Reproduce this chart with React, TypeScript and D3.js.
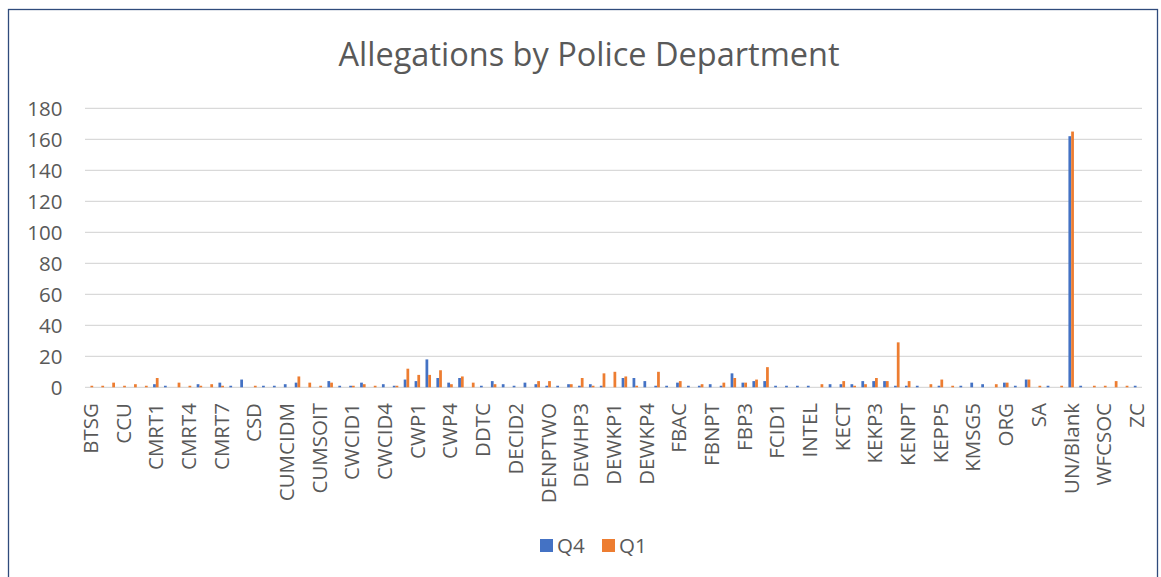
import React from "react";
import * as d3 from "d3";

const categories = [
  "BTSG","CAPD","CCPD","CCU","CDU","CMRT","CMRT1","CMRT2","CMRT3","CMRT4",
  "CMRT5","CMRT6","CMRT7","CMRT8","CPD","CSD","CTU","CUMCID","CUMCIDM","CUMCIDT",
  "CUMSO","CUMSOIT","CUMSOW","CWCID","CWCID1","CWCID2","CWCID3","CWCID4","CWCID5","CWP",
  "CWP1","CWP2","CWP3","CWP4","CWP5","DCPD","DDTC","DECID","DECID1","DECID2",
  "DECID3","DENPT","DENPTWO","DEWHP1","DEWHP2","DEWHP3","DEWHP4","DEWKP","DEWKP1","DEWKP2",
  "DEWKP3","DEWKP4","DEWKP5","DTU","FBAC","FBCID","FBNP","FBNPT","FBP1","FBP2",
  "FBP3","FBP4","FCID","FCID1","FCID2","FTU","INTEL","KEAC","KECID","KECT",
  "KEKP1","KEKP2","KEKP3","KEKP4","KENP","KENPT","KEPP3","KEPP4","KEPP5","KMSG3",
  "KMSG4","KMSG5","MCU","OPS","ORG","PIO","PSD","SA","SWAT","TRN",
  "UN/Blank","VCU","WFCID","WFCSOC","WFP","YCU","ZC"
];

// every third category carries a visible tick label
const tickLabels = [
  "BTSG","CCU","CMRT1","CMRT4","CMRT7","CSD","CUMCIDM","CUMSOIT","CWCID1","CWCID4",
  "CWP1","CWP4","DDTC","DECID2","DENPTWO","DEWHP3","DEWKP1","DEWKP4","FBAC","FBNPT",
  "FBP3","FCID1","INTEL","KECT","KEKP3","KENPT","KEPP5","KMSG5","ORG","SA",
  "UN/Blank","WFCSOC","ZC"
];

const q4 = [
  0,0,0,0,0,0,2,1,0,0,
  2,0,3,1,5,0,1,1,2,3,
  0,0,4,1,1,3,0,2,1,5,
  4,18,6,3,6,0,1,4,2,1,
  3,2,1,1,2,1,2,1,0,6,
  6,4,1,1,3,1,1,2,1,9,
  3,4,4,1,1,1,1,0,2,2,
  2,4,4,4,1,1,1,0,1,0,
  1,3,2,0,3,1,5,0,1,0,
  162,1,0,0,0,0,1
];

const q1 = [
  1,1,3,1,2,1,6,0,3,1,
  1,2,1,0,0,1,0,0,0,7,
  3,1,3,0,1,2,1,0,1,12,
  8,8,11,2,7,3,0,2,0,0,
  0,4,4,0,2,6,1,9,10,7,
  1,0,10,0,4,0,2,0,3,6,
  3,5,13,0,0,0,0,2,0,4,
  1,2,6,4,29,4,0,2,5,1,
  0,0,0,2,3,0,5,1,0,1,
  165,0,1,1,4,1,0
];

const yTicks = [0, 20, 40, 60, 80, 100, 120, 140, 160, 180];
const seriesNames = ["Q4", "Q1"];
const colors = ["#4472C4", "#ED7D31"];

export default function App() {
  const W = 1161, H = 577;
  const left = 85, right = 1142, top = 108.3, bottom = 387.3;
  const x = d3.scaleBand<number>().domain(d3.range(categories.length)).range([left, right]).paddingInner(0).paddingOuter(0);
  const y = d3.scaleLinear().domain([0, 180]).range([bottom, top]);
  const bw = 2.75;
  const font = "'Open Sans', 'Liberation Sans', sans-serif";
  const txt = "#595959";
  const labelSet = new Set(tickLabels);

  return (
    <svg width={W} height={H} style={{ position: "absolute", left: 0, top: 0, background: "#fff" }}>
      <rect x={8.5} y={9.5} width={1149} height={580} fill="#fff" stroke="#2F4B7C" strokeWidth={1.3} />
      <text x={589} y={66} textAnchor="middle" fontFamily={font} fontSize={32.5} fill={txt}>
        Allegations by Police Department
      </text>
      {yTicks.map((t) => (
        <g key={t}>
          <line x1={left} x2={right} y1={y(t)} y2={y(t)} stroke="#D9D9D9" strokeWidth={1.3} />
          <text x={62.5} y={y(t)} dy="0.36em" textAnchor="end" fontFamily={font} fontSize={20.5} fill={txt}>{t}</text>
        </g>
      ))}
      {categories.map((c, i) => {
        const cx = (x(i) as number) + x.bandwidth() / 2;
        return (
          <g key={c}>
            {q4[i] > 0 && <rect x={cx - bw} y={y(q4[i])} width={bw} height={bottom - y(q4[i])} fill={colors[0]} />}
            {q1[i] > 0 && <rect x={cx} y={y(q1[i])} width={bw} height={bottom - y(q1[i])} fill={colors[1]} />}
            {labelSet.has(c) && (
              <text transform={`translate(${cx},${403}) rotate(-90)`} dy="0.36em" textAnchor="end" fontFamily={font} fontSize={20.5} fill={txt}>{c}</text>
            )}
          </g>
        );
      })}
      {seriesNames.map((s, k) => {
        const lx = [540, 602][k];
        return (
          <g key={s}>
            <rect x={lx} y={539} width={13} height={13} fill={colors[k]} />
            <text x={lx + 17} y={546} dy="0.36em" fontFamily={font} fontSize={20.5} fill={txt}>{s}</text>
          </g>
        );
      })}
    </svg>
  );
}
